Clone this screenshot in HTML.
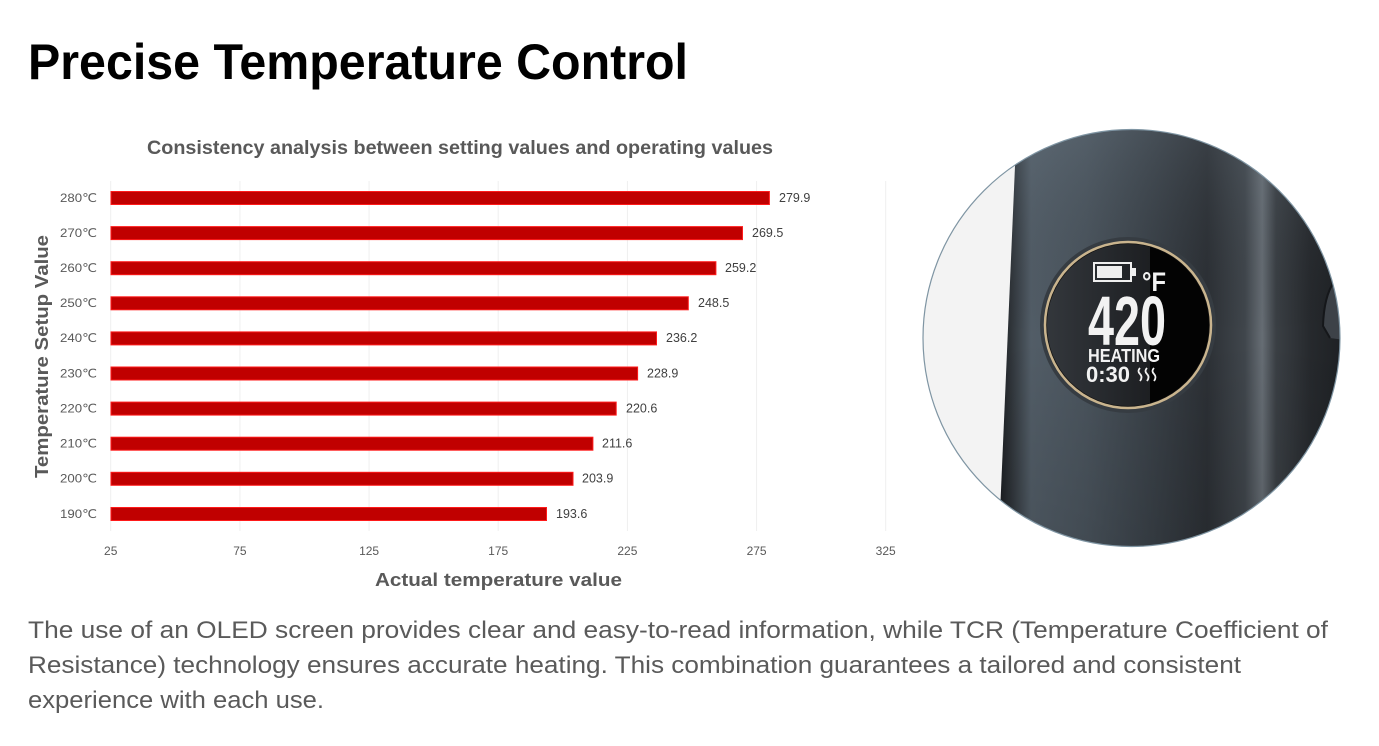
<!DOCTYPE html>
<html>
<head>
<meta charset="utf-8">
<style>
  html,body{margin:0;padding:0;background:#ffffff;}
  body{width:1379px;height:746px;overflow:hidden;}
  svg{display:block;}
  text{font-family:"Liberation Sans","DejaVu Sans",sans-serif;}
</style>
</head>
<body>
<svg width="1379" height="746" viewBox="0 0 1379 746" xmlns="http://www.w3.org/2000/svg">
  <defs>
    <clipPath id="circ"><circle cx="1131.5" cy="338" r="208.5"/></clipPath>
    <clipPath id="scr"><circle cx="1128" cy="325" r="81"/></clipPath>
    <linearGradient id="dev" x1="1000" y1="0" x2="1345" y2="0" gradientUnits="userSpaceOnUse">
      <stop offset="0" stop-color="#1c1f23"/>
      <stop offset="0.03" stop-color="#2e3338"/>
      <stop offset="0.09" stop-color="#525d67"/>
      <stop offset="0.25" stop-color="#4a545d"/>
      <stop offset="0.45" stop-color="#394047"/>
      <stop offset="0.6" stop-color="#2c3035"/>
      <stop offset="0.71" stop-color="#40464c"/>
      <stop offset="0.76" stop-color="#666d74"/>
      <stop offset="0.8" stop-color="#3a3f44"/>
      <stop offset="0.9" stop-color="#26292d"/>
      <stop offset="1" stop-color="#1d2023"/>
    </linearGradient>
    <linearGradient id="devv" x1="0" y1="130" x2="0" y2="547" gradientUnits="userSpaceOnUse">
      <stop offset="0" stop-color="#8fa0ae" stop-opacity="0.15"/>
      <stop offset="0.5" stop-color="#000" stop-opacity="0"/>
      <stop offset="1" stop-color="#000" stop-opacity="0.12"/>
    </linearGradient>
    <linearGradient id="scrg" x1="1047" y1="0" x2="1150" y2="0" gradientUnits="userSpaceOnUse">
      <stop offset="0" stop-color="#33373c"/>
      <stop offset="1" stop-color="#1d1f22"/>
    </linearGradient>
  </defs>

  <!-- Title -->
  <text x="28" y="79" font-size="50" font-weight="bold" fill="#000" textLength="660" lengthAdjust="spacingAndGlyphs">Precise Temperature Control</text>

  <!-- Chart title -->
  <text x="147" y="154" font-size="19" font-weight="bold" fill="#595959" textLength="626" lengthAdjust="spacingAndGlyphs">Consistency analysis between setting values and operating values</text>

  <!-- gridlines -->
  <g stroke="#efefef" stroke-width="1">
    <line x1="110.7" y1="181" x2="110.7" y2="531"/>
    <line x1="239.9" y1="181" x2="239.9" y2="531"/>
    <line x1="369.1" y1="181" x2="369.1" y2="531"/>
    <line x1="498.2" y1="181" x2="498.2" y2="531"/>
    <line x1="627.4" y1="181" x2="627.4" y2="531"/>
    <line x1="756.6" y1="181" x2="756.6" y2="531"/>
    <line x1="885.7" y1="181" x2="885.7" y2="531"/>
  </g>

  <!-- bars -->
  <g fill="#c00000" stroke="#ff1a1a" stroke-width="1">
    <rect x="111" y="191.5" width="658.4" height="13"/>
    <rect x="111" y="226.6" width="631.5" height="13"/>
    <rect x="111" y="261.7" width="604.9" height="13"/>
    <rect x="111" y="296.8" width="577.3" height="13"/>
    <rect x="111" y="331.9" width="545.5" height="13"/>
    <rect x="111" y="367" width="526.6" height="13"/>
    <rect x="111" y="402.1" width="505.2" height="13"/>
    <rect x="111" y="437.2" width="481.9" height="13"/>
    <rect x="111" y="472.3" width="462" height="13"/>
    <rect x="111" y="507.5" width="435.5" height="13"/>
  </g>

  <!-- value labels -->
  <g font-size="12.5" fill="#404040">
    <text x="779" y="202">279.9</text>
    <text x="752" y="237">269.5</text>
    <text x="725" y="272">259.2</text>
    <text x="698" y="307">248.5</text>
    <text x="666" y="342">236.2</text>
    <text x="647" y="377.5">228.9</text>
    <text x="626" y="412.5">220.6</text>
    <text x="602" y="447.5">211.6</text>
    <text x="582" y="482.5">203.9</text>
    <text x="556" y="518">193.6</text>
  </g>

  <!-- category labels -->
  <g font-size="12" fill="#595959" text-anchor="end">
    <text x="97" y="202" textLength="37" lengthAdjust="spacingAndGlyphs">280℃</text>
    <text x="97" y="237" textLength="37" lengthAdjust="spacingAndGlyphs">270℃</text>
    <text x="97" y="272" textLength="37" lengthAdjust="spacingAndGlyphs">260℃</text>
    <text x="97" y="307" textLength="37" lengthAdjust="spacingAndGlyphs">250℃</text>
    <text x="97" y="342" textLength="37" lengthAdjust="spacingAndGlyphs">240℃</text>
    <text x="97" y="377.5" textLength="37" lengthAdjust="spacingAndGlyphs">230℃</text>
    <text x="97" y="412.5" textLength="37" lengthAdjust="spacingAndGlyphs">220℃</text>
    <text x="97" y="447.5" textLength="37" lengthAdjust="spacingAndGlyphs">210℃</text>
    <text x="97" y="482.5" textLength="37" lengthAdjust="spacingAndGlyphs">200℃</text>
    <text x="97" y="518" textLength="37" lengthAdjust="spacingAndGlyphs">190℃</text>
  </g>

  <!-- x tick labels -->
  <g font-size="12" fill="#595959" text-anchor="middle">
    <text x="110.7" y="555">25</text>
    <text x="239.9" y="555">75</text>
    <text x="369.1" y="555">125</text>
    <text x="498.2" y="555">175</text>
    <text x="627.4" y="555">225</text>
    <text x="756.6" y="555">275</text>
    <text x="885.7" y="555">325</text>
  </g>

  <!-- axis titles -->
  <text x="375" y="586" font-size="18" font-weight="bold" fill="#595959" textLength="247" lengthAdjust="spacingAndGlyphs">Actual temperature value</text>
  <text transform="translate(48,478) rotate(-90)" x="0" y="0" font-size="18" font-weight="bold" fill="#595959" textLength="243" lengthAdjust="spacingAndGlyphs">Temperature Setup Value</text>

  <!-- Device image -->
  <g clip-path="url(#circ)">
    <rect x="900" y="110" width="460" height="460" fill="#f3f3f3"/>
    <polygon points="1017,120 1350,120 1350,560 998,560" fill="url(#dev)"/>
    <polygon points="1017,120 1350,120 1350,560 998,560" fill="url(#devv)"/>
    <!-- right bump -->
    <path d="M1345,268 L1334,282 Q1324,296 1323,326 L1330,338 L1345,340 Z" fill="#3d4248"/>
    <path d="M1334,282 Q1324,296 1323,326 L1330,338" fill="none" stroke="#15171a" stroke-width="2"/>
    <!-- screen bezel -->
    <circle cx="1128" cy="325" r="88" fill="#363c42"/>
    <circle cx="1128" cy="325" r="83" fill="#111" stroke="#c9b48e" stroke-width="2.5"/>
    <g clip-path="url(#scr)">
      <rect x="1040" y="240" width="110" height="170" fill="url(#scrg)"/>
      <rect x="1150" y="240" width="70" height="170" fill="#030303"/>
    </g>
    <!-- battery -->
    <rect x="1094" y="263" width="37" height="18" fill="none" stroke="#efefef" stroke-width="2"/>
    <rect x="1097" y="266" width="25" height="12" fill="#efefef"/>
    <rect x="1131" y="268" width="5" height="8" fill="#efefef"/>
    <text x="1142" y="291" font-size="27" font-weight="bold" fill="#f2f2f2" textLength="24" lengthAdjust="spacingAndGlyphs">°F</text>
    <text x="1088" y="345" font-size="70" font-weight="bold" fill="#f2f2f2" textLength="78" lengthAdjust="spacingAndGlyphs">420</text>
    <text x="1088" y="362" font-size="18" font-weight="bold" fill="#f2f2f2" textLength="72" lengthAdjust="spacingAndGlyphs">HEATING</text>
    <text x="1086" y="382" font-size="22" font-weight="bold" fill="#f2f2f2" textLength="44" lengthAdjust="spacingAndGlyphs">0:30</text>
    <g fill="none" stroke="#f2f2f2" stroke-width="1.8">
      <path d="M1140,368 q-3,3 0,6 q3,3 0,7"/>
      <path d="M1147,368 q-3,3 0,6 q3,3 0,7"/>
      <path d="M1154,368 q-3,3 0,6 q3,3 0,7"/>
    </g>
  </g>
  <circle cx="1131.5" cy="338" r="208.5" fill="none" stroke="#7f95a3" stroke-width="1.2"/>

  <!-- Paragraph -->
  <g font-size="24" fill="#5a5a5a">
    <text x="28" y="638" textLength="1300" lengthAdjust="spacingAndGlyphs">The use of an OLED screen provides clear and easy-to-read information, while TCR (Temperature Coefficient of</text>
    <text x="28" y="673" textLength="1213" lengthAdjust="spacingAndGlyphs">Resistance) technology ensures accurate heating. This combination guarantees a tailored and consistent</text>
    <text x="28" y="708" textLength="296" lengthAdjust="spacingAndGlyphs">experience with each use.</text>
  </g>
</svg>
</body>
</html>
